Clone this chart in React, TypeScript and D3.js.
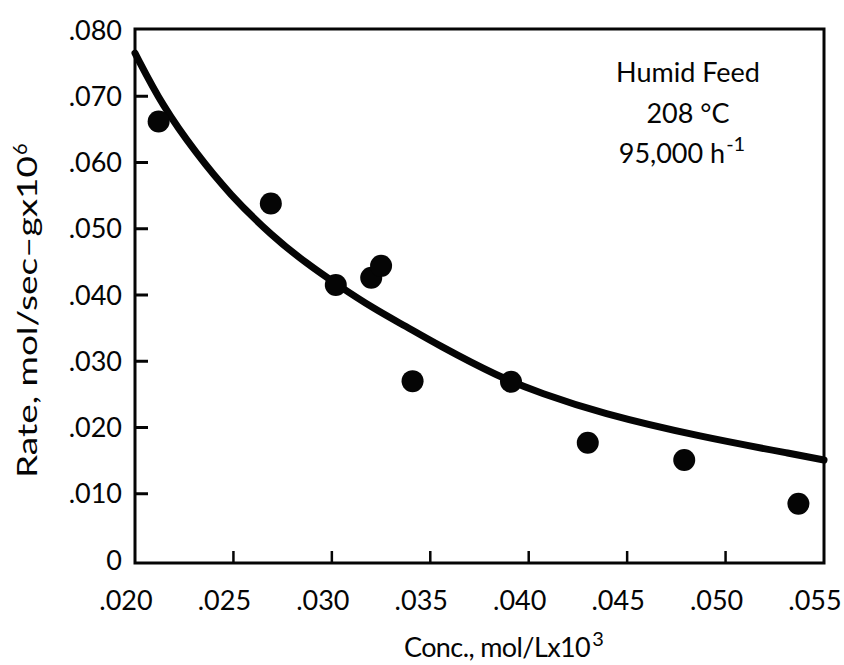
import React from "react";
import * as d3 from "d3";

// Measured points: concentration (mol/L x10^3) vs. rate (mol/sec-g x10^6)
const concData = [0.0212, 0.0269, 0.0302, 0.032, 0.0325, 0.0341, 0.0391, 0.043, 0.0479, 0.0537];
const rateData = [0.0662, 0.0538, 0.0415, 0.0426, 0.0444, 0.027, 0.0269, 0.0177, 0.0151, 0.0085];

// Fitted rate curve, sampled along its length
const fitConc = [0.02, 0.0214, 0.0231, 0.0248, 0.027, 0.0287, 0.0303, 0.0321, 0.0338, 0.0353, 0.0385, 0.0406, 0.0436, 0.0487, 0.0538, 0.055];
const fitRate = [0.0765, 0.0685, 0.0614, 0.0552, 0.0488, 0.0448, 0.0415, 0.038, 0.0352, 0.0326, 0.0276, 0.0252, 0.0222, 0.0186, 0.0158, 0.0151];

const xTicks = [0.02, 0.025, 0.03, 0.035, 0.04, 0.045, 0.05, 0.055];
const xTickLabels = [".020", ".025", ".030", ".035", ".040", ".045", ".050", ".055"];
const yTicks = [0, 0.01, 0.02, 0.03, 0.04, 0.05, 0.06, 0.07, 0.08];
const yTickLabels = ["0", ".010", ".020", ".030", ".040", ".050", ".060", ".070", ".080"];

const noteLines = ["Humid Feed", "208 °C", "95,000 h"];

const W = 844;
const H = 665;
const FONT = "Lato, 'DejaVu Sans', sans-serif";
const INK = "#050505";

export default function App() {
  const x = d3.scaleLinear().domain([0.02, 0.055]).range([135, 824]);
  const y = d3.scaleLinear().domain([0, 0.08]).range([560, 30]);

  const fit = d3
    .line<number>()
    .x((_, i) => x(fitConc[i]))
    .y((_, i) => y(fitRate[i]))
    .curve(d3.curveBasis)(fitConc) as string;

  const left = x(0.02);
  const right = x(0.055);
  const top = y(0.08) - 1;
  const bottom = y(0) + 3;

  return (
    <svg
      width={W}
      height={H}
      viewBox={`0 0 ${W} ${H}`}
      style={{ display: "block", position: "absolute", left: 0, top: 0, background: "#fff" }}
    >
      <rect x={0} y={0} width={W} height={H} fill="#fff" />

      {/* frame */}
      <rect
        x={left}
        y={top}
        width={right - left}
        height={bottom - top}
        fill="none"
        stroke={INK}
        strokeWidth={3}
      />

      {/* inner tick marks */}
      {yTicks.slice(1, -1).map((t) => (
        <line key={"yt" + t} x1={left} x2={left + 13} y1={y(t)} y2={y(t)} stroke={INK} strokeWidth={3} />
      ))}
      {xTicks.slice(1, -1).map((t) => (
        <line key={"xt" + t} x1={x(t)} x2={x(t)} y1={bottom} y2={bottom - 12} stroke={INK} strokeWidth={2.5} />
      ))}

      {/* tick labels */}
      <g fontFamily={FONT} fontSize={27} fill={INK}>
        {yTicks.map((t, i) => (
          <text key={"yl" + t} x={122} y={y(t)} dy="0.36em" textAnchor="end">
            {yTickLabels[i]}
          </text>
        ))}
        {xTicks.map((t, i) => (
          <text key={"xl" + t} x={x(t) - 9} y={610} textAnchor="middle">
            {xTickLabels[i]}
          </text>
        ))}
      </g>

      {/* axis titles */}
      <text
        fontFamily={FONT}
        fontSize={27}
        fill={INK}
        x={404}
        y={657}
        textAnchor="start"
        letterSpacing={-0.6}
      >
        Conc., mol/Lx10
        <tspan dx={2} dy={-11} fontSize={20}>3</tspan>
      </text>
      <text
        fontFamily={FONT}
        fontSize={27}
        fill={INK}
        transform="translate(37,478) rotate(-90)"
        x={0}
        y={0}
        textAnchor="start"
      >
        <tspan textLength={322} lengthAdjust="spacingAndGlyphs">Rate, mol/sec–gx10</tspan>
        <tspan dx={1} dy={-10} fontSize={20}>6</tspan>
      </text>

      {/* fitted curve */}
      <path d={fit} fill="none" stroke={INK} strokeWidth={7} strokeLinecap="round" />

      {/* data points */}
      {concData.map((c, i) => (
        <circle key={"p" + i} cx={x(c)} cy={y(rateData[i])} r={11} fill={INK} />
      ))}

      {/* condition notes */}
      <g fontFamily={FONT} fontSize={27} fill={INK} textAnchor="middle">
        <text x={688} y={82}>{noteLines[0]}</text>
        <text x={688} y={123}>{noteLines[1]}</text>
        <text x={682} y={163}>
          {noteLines[2]}
          <tspan dx={1} dy={-12} fontSize={20}>-1</tspan>
        </text>
      </g>
    </svg>
  );
}
